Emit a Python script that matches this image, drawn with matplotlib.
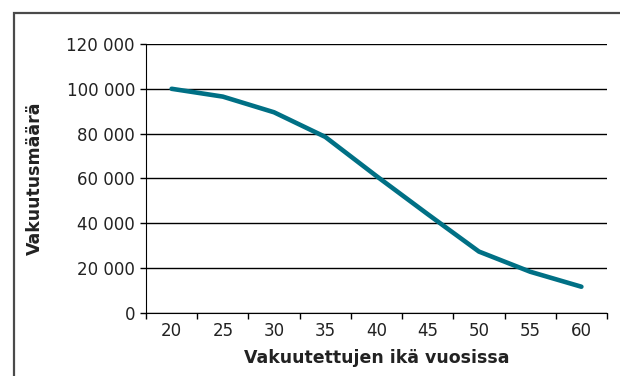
import numpy as np
import matplotlib.pyplot as plt
from matplotlib.patches import Rectangle
from matplotlib.ticker import FuncFormatter

# Insured amount by age of the insured
ages = ['20', '25', '30', '35', '40', '45', '50', '55', '60']
amounts = [100000, 96500, 89500, 78500, 61000, 44000, 27300, 18300, 11600]
y_ticks = [0, 20000, 40000, 60000, 80000, 100000, 120000]

plt.rcParams['font.family'] = ['DejaVu Sans']

fig = plt.figure(figsize=(6.2, 3.76), dpi=100)
ax = fig.add_axes([146 / 620, 1 - 312.7 / 376, 461 / 620, (312.7 - 44) / 376])

# outer frame, cut off at the right and bottom
fig.patches.append(Rectangle((13.5 / 620, -0.1), 1.2, 1 - 12.5 / 376 + 0.1,
                             transform=fig.transFigure, fill=False,
                             edgecolor='#4a4a4a', linewidth=1.6))

x = np.arange(len(ages))
ax.plot(x, amounts, color='#007085', linewidth=3.3, solid_capstyle='round',
        solid_joinstyle='round', zorder=3)

ax.set_xlim(-0.5, len(ages) - 0.5)
ax.set_ylim(0, 120000)
ax.set_yticks(y_ticks)
ax.yaxis.set_major_formatter(FuncFormatter(lambda v, p: f'{int(v):,}'.replace(',', ' ')))
ax.set_xticks(x)
ax.set_xticklabels(ages)
ax.set_xticks(np.arange(-0.5, len(ages)), minor=True)
ax.tick_params(axis='x', which='major', length=0, labelsize=12, pad=7, colors='#222222')
ax.tick_params(axis='x', which='minor', length=4, width=1, color='black')
ax.tick_params(axis='y', length=4, width=1, labelsize=12, pad=4, colors='#222222')
ax.tick_params(axis='y', color='black')

ax.grid(axis='y', color='black', linewidth=1)
ax.set_axisbelow(True)
for side in ['top', 'right']:
    ax.spines[side].set_visible(False)
ax.spines['left'].set_color('black')
ax.spines['bottom'].set_color('black')

ax.set_xlabel('Vakuutettujen ikä vuosissa', fontsize=12.5, fontweight='bold',
              color='#222222', labelpad=6)
ax.set_ylabel('Vakuutusmäärä', fontsize=12.5, fontweight='bold', color='#222222')
ax.yaxis.set_label_coords(-0.222, 0.5)

fig.savefig('out.png', dpi=100)
